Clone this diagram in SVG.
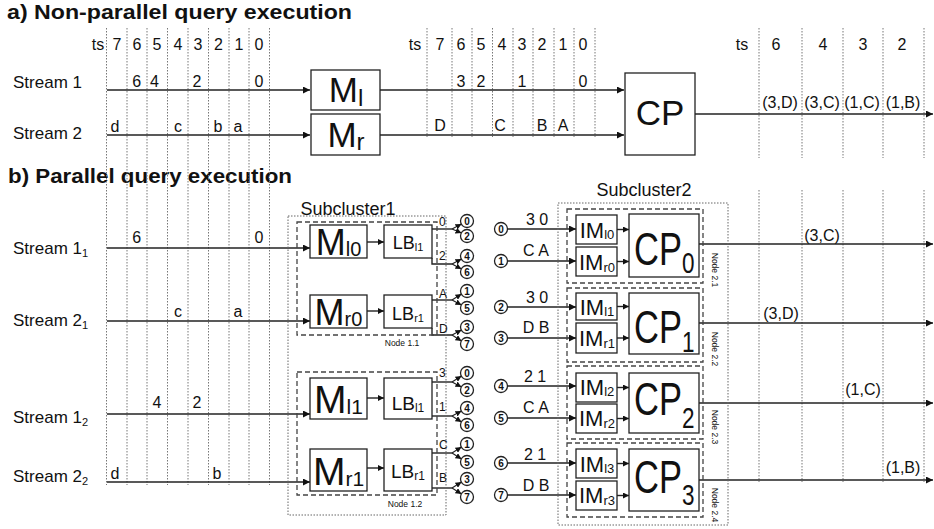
<svg xmlns="http://www.w3.org/2000/svg" width="934" height="529" viewBox="0 0 934 529">
<style>
text{font-family:"Liberation Sans",Arial,sans-serif;fill:#111}
.t{font-size:16px}
.ts{font-size:16px;text-anchor:middle}
.lab{font-size:17px}
.title{font-size:20px;font-weight:bold}
.box{fill:#fff;stroke:#222;stroke-width:1.3}
.grid{stroke:#777;stroke-width:1;stroke-dasharray:1.5,1.5;fill:none}
.ln{stroke:#222;stroke-width:1.4;fill:none}
.dash{fill:none;stroke:#444;stroke-width:1.3;stroke-dasharray:5,3}
.dot{fill:none;stroke:#666;stroke-width:1;stroke-dasharray:1.5,1.5}
.circ{fill:#fff;stroke:#222;stroke-width:1.3}
.cn{font-size:10px;font-weight:bold;text-anchor:middle}
.small{font-size:12px}
.node{font-size:8.5px;text-anchor:middle}
.mid{text-anchor:middle}
.cpn{font-size:46px}
</style>
<defs>
<marker id="ah" viewBox="0 0 10 10" refX="10" refY="5" markerWidth="8" markerHeight="7" markerUnits="userSpaceOnUse" orient="auto"><path d="M0,0 L10,5 L0,10 z" fill="#111"/></marker>
<marker id="ahs" viewBox="0 0 10 10" refX="10" refY="5" markerWidth="6" markerHeight="6" markerUnits="userSpaceOnUse" orient="auto"><path d="M0,0 L10,5 L0,10 z" fill="#111"/></marker>
</defs>

<!-- titles -->
<text class="title" x="7" y="19" textLength="345" lengthAdjust="spacingAndGlyphs">a) Non-parallel query execution</text>
<text class="title" x="8" y="183" textLength="284" lengthAdjust="spacingAndGlyphs">b) Parallel query execution</text>

<!-- grid lines -->
<g id="grid">
<g class="grid">
<path d="M106.5,28V485M127,28V485M147,28V485M167.5,28V485M188,28V485M208.5,28V485M229,28V485M249,28V485M269.5,28V485"/>
<path d="M427,28V137M452,28V137M472,28V137M492.5,28V137M513,28V137M533,28V137M554,28V137M574,28V137M595,28V137"/>
<path d="M759,28V158M802,28V158M843,28V158M883,28V158M924,28V158"/>
<path d="M759,190V482M802,190V482M843,190V482M883,190V482M924,190V482"/>
</g>
</g>

<!-- ts headers -->
<g id="ts-labels" class="ts">
<text x="98" y="50">ts</text><text x="117" y="50">7</text><text x="137" y="50">6</text><text x="157" y="50">5</text><text x="178" y="50">4</text><text x="198" y="50">3</text><text x="218.5" y="50">2</text><text x="239" y="50">1</text><text x="259" y="50">0</text>
<text x="415" y="50">ts</text><text x="440" y="50">7</text><text x="461" y="50">6</text><text x="481" y="50">5</text><text x="502" y="50">4</text><text x="522" y="50">3</text><text x="542" y="50">2</text><text x="563" y="50">1</text><text x="583" y="50">0</text>
<text x="742" y="50">ts</text><text x="776" y="50">6</text><text x="823" y="50">4</text><text x="863" y="50">3</text><text x="902" y="50">2</text>
</g>

<!-- stream labels -->
<g id="stream-labels" class="lab">
<text x="13" y="88">Stream 1</text>
<text x="13" y="139">Stream 2</text>
<text x="13" y="254">Stream 1<tspan font-size="11" dy="3">1</tspan></text>
<text x="13" y="326">Stream 2<tspan font-size="11" dy="3">1</tspan></text>
<text x="13" y="423">Stream 1<tspan font-size="11" dy="3">2</tspan></text>
<text x="13" y="482">Stream 2<tspan font-size="11" dy="3">2</tspan></text>
</g>

<!-- values -->
<g id="values" class="ts">
<text x="136.7" y="87">6</text><text x="154.5" y="87">4</text><text x="197" y="87">2</text><text x="259" y="87">0</text>
<text x="115" y="132">d</text><text x="178" y="132">c</text><text x="218" y="132">b</text><text x="238" y="132">a</text>
<text x="461" y="87">3</text><text x="481" y="87">2</text><text x="522" y="87">1</text><text x="583" y="87">0</text>
<text x="440" y="131">D</text><text x="500" y="131">C</text><text x="542" y="131">B</text><text x="563" y="131">A</text>
<text x="780" y="108">(3,D)</text><text x="822" y="108">(3,C)</text><text x="862" y="108">(1,C)</text><text x="903" y="108">(1,B)</text>
<text x="136.7" y="243">6</text><text x="259" y="243">0</text>
<text x="178" y="317">c</text><text x="238" y="317">a</text>
<text x="157" y="408">4</text><text x="197" y="408">2</text>
<text x="115" y="479">d</text><text x="217" y="479">b</text>
<text x="822" y="241">(3,C)</text><text x="781" y="319">(3,D)</text><text x="863" y="395">(1,C)</text><text x="903" y="473">(1,B)</text>
</g>

<!-- connectors -->
<g id="connectors" class="ln">
<path d="M107,90H310" marker-end="url(#ah)"/>
<path d="M107,135H310" marker-end="url(#ah)"/>
<path d="M380,90H624" marker-end="url(#ah)"/>
<path d="M380,135H624" marker-end="url(#ah)"/>
<path d="M695,114H933" marker-end="url(#ah)"/>
<path d="M107,248H310" marker-end="url(#ah)"/>
<path d="M107,321H310" marker-end="url(#ah)"/>
<path d="M107,414H310" marker-end="url(#ah)"/>
<path d="M107,482H310" marker-end="url(#ah)"/>
<path d="M367,242H384" marker-end="url(#ahs)"/>
<path d="M367,311H384" marker-end="url(#ahs)"/>
<path d="M367,398H384" marker-end="url(#ahs)"/>
<path d="M367,468H384" marker-end="url(#ahs)"/>
<path d="M432,229H452"/><path d="M432,258V264H452"/><path d="M432,300H452"/><path d="M432,328V335H452"/>
<path d="M432,382H452"/><path d="M432,416H452"/><path d="M432,453H452"/><path d="M432,488H452"/>
<g stroke-width="1.2">
<path d="M452,229L461.5,224" marker-end="url(#ahs)"/><path d="M452,229L461.5,233" marker-end="url(#ahs)"/>
<path d="M452,264L461.5,259" marker-end="url(#ahs)"/><path d="M452,264L461.5,269" marker-end="url(#ahs)"/>
<path d="M452,300L461.5,294" marker-end="url(#ahs)"/><path d="M452,300L461.5,305" marker-end="url(#ahs)"/>
<path d="M452,335L461.5,330" marker-end="url(#ahs)"/><path d="M452,335L461.5,341" marker-end="url(#ahs)"/>
<path d="M452,382L461.5,376" marker-end="url(#ahs)"/><path d="M452,382L461.5,387" marker-end="url(#ahs)"/>
<path d="M452,416L461.5,411" marker-end="url(#ahs)"/><path d="M452,416L461.5,422" marker-end="url(#ahs)"/>
<path d="M452,453L461.5,447" marker-end="url(#ahs)"/><path d="M452,453L461.5,459" marker-end="url(#ahs)"/>
<path d="M452,488L461.5,482" marker-end="url(#ahs)"/><path d="M452,488L461.5,494" marker-end="url(#ahs)"/>
</g>
<path d="M507.5,229H576" marker-end="url(#ah)"/>
<path d="M507.5,261H576" marker-end="url(#ah)"/>
<path d="M507.5,307H576" marker-end="url(#ah)"/>
<path d="M507.5,338H576" marker-end="url(#ah)"/>
<path d="M507.5,386H576" marker-end="url(#ah)"/>
<path d="M507.5,418H576" marker-end="url(#ah)"/>
<path d="M507.5,463H576" marker-end="url(#ah)"/>
<path d="M507.5,495H576" marker-end="url(#ah)"/>
<path d="M617,229.5H629" marker-end="url(#ahs)"/>
<path d="M617,261.5H629" marker-end="url(#ahs)"/>
<path d="M617,306.5H629" marker-end="url(#ahs)"/>
<path d="M617,338H629" marker-end="url(#ahs)"/>
<path d="M617,387.5H629" marker-end="url(#ahs)"/>
<path d="M617,418.5H629" marker-end="url(#ahs)"/>
<path d="M617,463.5H629" marker-end="url(#ahs)"/>
<path d="M617,495.5H629" marker-end="url(#ahs)"/>
<path d="M699,244H933" marker-end="url(#ah)"/>
<path d="M699,323H933" marker-end="url(#ah)"/>
<path d="M699,403H933" marker-end="url(#ah)"/>
<path d="M699,480H933" marker-end="url(#ah)"/>
</g>

<!-- part a nodes -->
<g id="Ml"><rect class="box" x="311" y="70" width="69" height="40"/><text class="mid" x="346" y="102" font-size="35">M<tspan font-size="24" dy="4">l</tspan></text></g>
<g id="Mr"><rect class="box" x="311" y="114" width="69" height="41"/><text class="mid" x="346" y="147" font-size="35">M<tspan font-size="24" dy="3">r</tspan></text></g>
<g id="CP"><rect class="box" x="625" y="73" width="70" height="82"/><text class="mid" x="660" y="125" font-size="35">CP</text></g>

<!-- subcluster 1 -->
<g id="subcluster1">
<rect class="dot" x="288" y="216" width="158" height="299"/>
<text x="348" y="215" font-size="18" class="mid">Subcluster1</text>
</g>
<g id="node1-1">
<rect class="dash" x="297" y="222" width="140" height="113"/>
<text class="node" x="402" y="346">Node 1.1</text>
<g id="Ml0"><rect class="box" x="310" y="225" width="57" height="33"/><text class="mid" x="338.5" y="255" font-size="36">M<tspan font-size="20" dy="1">l0</tspan></text></g>
<g id="LBl1a"><rect class="box" x="384" y="225" width="48" height="33"/><text class="mid" x="408" y="249" font-size="18">LB<tspan font-size="11" dy="2">l1</tspan></text></g>
<g id="Mr0"><rect class="box" x="310" y="295" width="57" height="33"/><text class="mid" x="338.5" y="325" font-size="36">M<tspan font-size="20" dy="1">r0</tspan></text></g>
<g id="LBr1a"><rect class="box" x="384" y="295" width="48" height="33"/><text class="mid" x="408" y="320" font-size="18">LB<tspan font-size="11" dy="2">r1</tspan></text></g>
</g>
<g id="node1-2">
<rect class="dash" x="297" y="372" width="140" height="123"/>
<text class="node" x="405" y="507">Node 1.2</text>
<g id="Ml1"><rect class="box" x="310" y="378" width="57" height="41"/><text class="mid" x="338.5" y="413" font-size="39">M<tspan font-size="21" dy="1">l1</tspan></text></g>
<g id="LBl1b"><rect class="box" x="384" y="378" width="48" height="41"/><text class="mid" x="408" y="410" font-size="19">LB<tspan font-size="12" dy="2">l1</tspan></text></g>
<g id="Mr1"><rect class="box" x="310" y="449" width="57" height="42"/><text class="mid" x="338.5" y="485" font-size="39">M<tspan font-size="21" dy="1">r1</tspan></text></g>
<g id="LBr1b"><rect class="box" x="384" y="449" width="48" height="42"/><text class="mid" x="408" y="478" font-size="19">LB<tspan font-size="12" dy="2">r1</tspan></text></g>
</g>

<!-- LB output labels -->
<g id="lb-out-labels" class="small">
<text x="439" y="226">0</text><text x="439" y="260">2</text><text x="439" y="298">A</text><text x="439" y="333">D</text>
<text x="439" y="377">3</text><text x="439" y="411">1</text><text x="439" y="449">C</text><text x="439" y="482">B</text>
</g>

<!-- partition circles -->
<g id="circles-out">
<g class="circ"><circle cx="467" cy="221" r="6.5"/><circle cx="467" cy="236" r="6.5"/><circle cx="467" cy="256" r="6.5"/><circle cx="467" cy="272" r="6.5"/><circle cx="467" cy="291" r="6.5"/><circle cx="467" cy="308" r="6.5"/><circle cx="467" cy="327" r="6.5"/><circle cx="467" cy="344" r="6.5"/>
<circle cx="467" cy="373" r="6.5"/><circle cx="467" cy="390" r="6.5"/><circle cx="467" cy="408" r="6.5"/><circle cx="467" cy="425" r="6.5"/><circle cx="467" cy="444" r="6.5"/><circle cx="467" cy="462" r="6.5"/><circle cx="467" cy="479" r="6.5"/><circle cx="467" cy="497" r="6.5"/></g>
<g class="cn"><text x="467" y="224.5">0</text><text x="467" y="239.5">2</text><text x="467" y="259.5">4</text><text x="467" y="275.5">6</text><text x="467" y="294.5">1</text><text x="467" y="311.5">5</text><text x="467" y="330.5">3</text><text x="467" y="347.5">7</text>
<text x="467" y="376.5">0</text><text x="467" y="393.5">2</text><text x="467" y="411.5">4</text><text x="467" y="428.5">6</text><text x="467" y="447.5">1</text><text x="467" y="465.5">5</text><text x="467" y="482.5">3</text><text x="467" y="500.5">7</text></g>
</g>
<g id="circles-in">
<g class="circ"><circle cx="501" cy="229" r="6.5"/><circle cx="501" cy="261" r="6.5"/><circle cx="501" cy="307" r="6.5"/><circle cx="501" cy="338" r="6.5"/><circle cx="501" cy="386" r="6.5"/><circle cx="501" cy="418" r="6.5"/><circle cx="501" cy="463" r="6.5"/><circle cx="501" cy="495" r="6.5"/></g>
<g class="cn"><text x="501" y="232.5">0</text><text x="501" y="264.5">1</text><text x="501" y="310.5">2</text><text x="501" y="341.5">3</text><text x="501" y="389.5">4</text><text x="501" y="421.5">5</text><text x="501" y="466.5">6</text><text x="501" y="498.5">7</text></g>
</g>
<g id="in-labels" class="ts">
<text x="537" y="225">3 0</text><text x="536" y="256">C A</text><text x="537" y="303">3 0</text><text x="536" y="333">D B</text>
<text x="535" y="382">2 1</text><text x="536" y="413">C A</text><text x="535" y="460">2 1</text><text x="536" y="491">D B</text>
</g>

<!-- subcluster 2 -->
<g id="subcluster2">
<rect class="dot" x="558" y="203" width="170" height="322"/>
<text x="644" y="196" font-size="18" class="mid">Subcluster2</text>
</g>
<g id="node2-1">
<rect class="dash" x="567" y="209" width="136" height="74"/>
<text class="node" transform="translate(712,270) rotate(90)">Node 2.1</text>
<g id="IMl0"><rect class="box" x="576" y="215" width="41" height="29"/><text class="mid" x="597" y="238" font-size="22">IM<tspan font-size="13" dy="1">l0</tspan></text></g>
<g id="IMr0"><rect class="box" x="576" y="247" width="41" height="29"/><text class="mid" x="597" y="270" font-size="22">IM<tspan font-size="13" dy="2">r0</tspan></text></g>
<g id="CP0"><rect class="box" x="629" y="214" width="70" height="63"/><text class="cpn" transform="translate(634,265) scale(0.75,1)">CP<tspan font-size="30" dy="8">0</tspan></text></g>
</g>
<g id="node2-2">
<rect class="dash" x="567" y="288" width="136" height="74"/>
<text class="node" transform="translate(712,349) rotate(90)">Node 2.2</text>
<g id="IMl1"><rect class="box" x="576" y="293" width="41" height="27"/><text class="mid" x="597" y="315" font-size="22">IM<tspan font-size="13" dy="1">l1</tspan></text></g>
<g id="IMr1"><rect class="box" x="576" y="323" width="41" height="30"/><text class="mid" x="597" y="346" font-size="22">IM<tspan font-size="13" dy="2">r1</tspan></text></g>
<g id="CP1"><rect class="box" x="629" y="293" width="70" height="61"/><text class="cpn" transform="translate(634,343) scale(0.75,1)">CP<tspan font-size="30" dy="9">1</tspan></text></g>
</g>
<g id="node2-3">
<rect class="dash" x="567" y="366" width="136" height="73"/>
<text class="node" transform="translate(712,427) rotate(90)">Node 2.3</text>
<g id="IMl2"><rect class="box" x="576" y="373" width="41" height="29"/><text class="mid" x="597" y="395" font-size="22">IM<tspan font-size="13" dy="1">l2</tspan></text></g>
<g id="IMr2"><rect class="box" x="576" y="404" width="41" height="29"/><text class="mid" x="597" y="426" font-size="22">IM<tspan font-size="13" dy="2">r2</tspan></text></g>
<g id="CP2"><rect class="box" x="629" y="373" width="70" height="60"/><text class="cpn" transform="translate(634,415) scale(0.75,1)">CP<tspan font-size="30" dy="13">2</tspan></text></g>
</g>
<g id="node2-4">
<rect class="dash" x="567" y="443" width="136" height="74"/>
<text class="node" transform="translate(712,505) rotate(90)">Node 2.4</text>
<g id="IMl3"><rect class="box" x="576" y="449" width="41" height="29"/><text class="mid" x="597" y="472" font-size="22">IM<tspan font-size="13" dy="1">l3</tspan></text></g>
<g id="IMr3"><rect class="box" x="576" y="481" width="41" height="29"/><text class="mid" x="597" y="503" font-size="22">IM<tspan font-size="13" dy="2">r3</tspan></text></g>
<g id="CP3"><rect class="box" x="629" y="449" width="70" height="62"/><text class="cpn" transform="translate(634,493) scale(0.75,1)">CP<tspan font-size="30" dy="12">3</tspan></text></g>
</g>
</svg>
